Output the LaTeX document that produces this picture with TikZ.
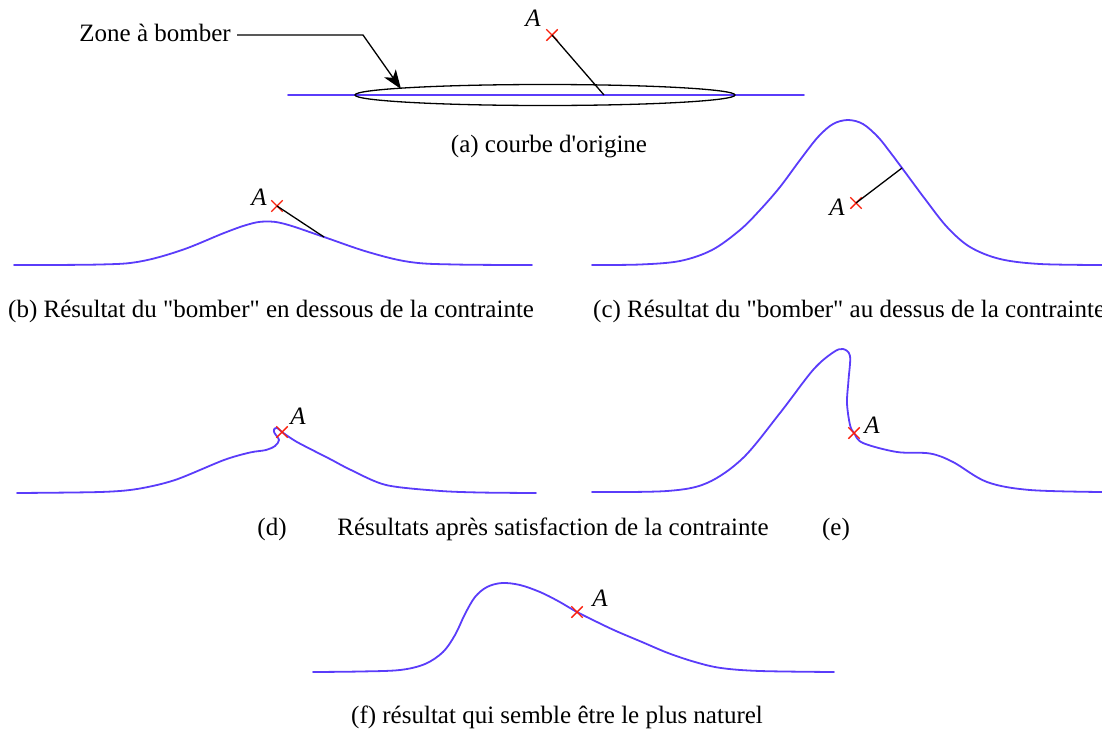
\documentclass[tikz,border=0pt]{standalone}
\usepackage{fontspec}
\newfontfamily\tnr{Liberation Serif}
\usetikzlibrary{arrows.meta,shapes.misc}
\definecolor{curveblue}{RGB}{90,60,250}
\definecolor{markred}{RGB}{250,30,10}
\begin{document}
\begin{tikzpicture}[x=1pt,y=-1pt,
  curve/.style={draw=curveblue, line width=1.8pt, line join=round, line cap=round},
  lead/.style={draw=black, line width=1.3pt},
  xmark/.style={cross out, draw=markred, line width=1.4pt, minimum size=10pt, inner sep=0pt},
  lab/.style={font=\tnr\fontsize{25}{30}\selectfont, inner sep=0pt},
  alab/.style={font=\tnr\itshape\fontsize{25}{30}\selectfont, inner sep=0pt}]
\useasboundingbox (0,0) rectangle (1102,731);

% ---------- (a) ----------
\draw[curve] (288,95) -- (804,95);
\draw[lead] (545,95) ellipse [x radius=190pt, y radius=10.5pt];
\node[lab, anchor=base east] (zone) at (231,41) {Zone à bomber};
\coordinate (bend) at (363,35);
\coordinate (tip) at (401,89);
\draw[lead, -{Stealth[length=19pt,width=14pt,inset=5pt]}] (zone.base east) ++(6,-6) -- (bend) -- (tip);
\node[xmark] (xa) at (552,35) {};
\node[alab] (la) at (533,18) {A};
\coordinate (pa) at (604,95);
\draw[lead] (xa.center) -- (pa);
\node[lab, anchor=base] (capa) at (549,152) {(a) courbe d'origine};

% ---------- (b) ----------
\draw[curve] plot[smooth, tension=0.6] coordinates {(14,265) (100,264.5) (140,261.5) (182,250) (224,233) (248,224.5) (265,221.5) (285,224) (324,237) (368,252) (410,262) (455,264.5) (532,265)};
\node[xmark] (xb) at (277,206) {};
\node[alab] (lb) at (259,197) {A};
\coordinate (pb) at (324,237);
\draw[lead] (xb.center) -- (pb);
\node[lab, anchor=base west] (capb) at (8,317) {(b) Résultat du "bomber" en dessous de la contrainte};

% ---------- (c) ----------
\draw[curve] plot[smooth, tension=0.55] coordinates {(592,265) (640,264.5) (680,261) (712,250) (740,230) (760,210) (780,187) (800,160) (818,137) (833,124) (848,120) (863,124) (878,137) (890,152) (902,168) (925,199) (947,227) (970,247) (1000,259) (1040,264) (1102,265)};
\node[xmark] (xc) at (856,203) {};
\node[alab] (lc) at (837,207) {A};
\coordinate (pc) at (902,168);
\draw[lead] (xc.center) -- (pc);
\node[lab, anchor=base west] (capc) at (593,317) {(c) Résultat du "bomber" au dessus de la contrainte};

% ---------- (d) ----------
\draw[curve] plot[smooth, tension=0.5] coordinates {(17,493) (100,492) (137,489) (175,480) (224,460) (250,452.5) (266,450) (275,446) (279,440) (274.5,433) (274,429.5) (277,427.8) (282,432) (297,442) (330,459) (351,470) (386,485) (438,490.8) (480,492.5) (536,493)};
\node[xmark] (xd) at (282,432) {};
\node[alab] (ld) at (298,416) {A};

% ---------- (e) ----------
\draw[curve] plot[smooth, tension=0.55] coordinates {(592,492) (667,491) (707,483) (743,458) (780,413) (813,370) (833,352.5) (843,349) (850,356) (848.5,380) (847,403) (850,425) (854,433) (863,443) (897,452) (930,453.5) (953,462) (987,482) (1030,490) (1102,492)};
\node[xmark] (xe) at (854,433) {};
\node[alab] (le) at (872,425) {A};

\node[lab, anchor=base] (capd) at (272,535) {(d)};
\node[lab, anchor=base] (capde) at (553,535) {Résultats après satisfaction de la contrainte};
\node[lab, anchor=base] (cape) at (836,535) {(e)};

% ---------- (f) ----------
\draw[curve] plot[smooth, tension=0.55] coordinates {(313,672) (360,671.5) (400,670) (425,664) (443,652) (455,635) (465,614) (475,597) (487,587) (502,583) (520,585) (540,592) (558,601) (577,612) (597,622) (616,631) (642,642) (668,653) (695,662) (721,668) (760,671) (834,672)};
\node[xmark] (xf) at (577,612) {};
\node[alab] (lf) at (600,598) {A};
\node[lab, anchor=base] (capf) at (557,723) {(f) résultat qui semble être le plus naturel};
\end{tikzpicture}
\end{document}
